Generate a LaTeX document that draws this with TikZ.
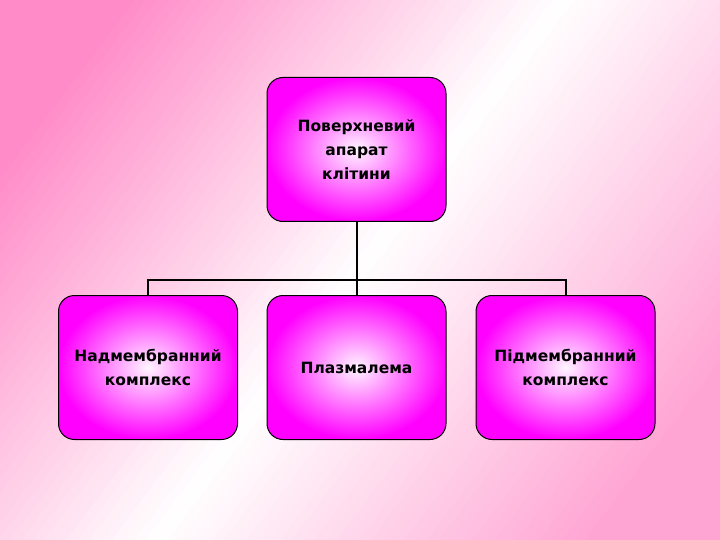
\documentclass[tikz,border=0pt]{standalone}
\usepackage{fontspec}
\setmainfont{DejaVu Sans}
\definecolor{bgpink}{RGB}{255,140,200}
\definecolor{bgpink2}{RGB}{255,165,212}
\definecolor{mag}{RGB}{255,0,255}
\definecolor{magin}{RGB}{255,245,255}
\begin{document}
\begin{tikzpicture}[x=1pt,y=-1pt,
  box/.style={draw=black,line width=1pt,rounded corners=16pt,minimum width=179pt,minimum height=144pt,
    inner color=magin,outer color=mag,align=center,font=\bfseries\fontsize{15.5}{24}\selectfont,text=black},
  conn/.style={line width=2pt,black}]
\useasboundingbox (0,0) rectangle (720,540);
\begin{scope}
\clip (0,0) rectangle (720,540);
\begin{scope}[shift={(360,270)},rotate=-37]
\foreach \i in {-50,...,49}{
  \pgfmathsetmacro{\pc}{min(100,abs(\i+0.5)*2.6)}
  \ifnum\i<0
    \fill[bgpink!\pc!white] (\i*9,-500) rectangle (\i*9+9.5,500);
  \else
    \fill[bgpink2!\pc!white] (\i*9,-500) rectangle (\i*9+9.5,500);
  \fi
}
\end{scope}
\end{scope}
\node[box] (top) at (356.5,149.5) {Поверхневий\\апарат\\клітини};
\node[box] (l) at (148,367.5) {Надмембранний\\комплекс};
\node[box] (m) at (356.5,367.5) {Плазмалема};
\node[box] (r) at (565.5,367.5) {Підмембранний\\комплекс};
\coordinate (j) at (356.5,280);
\draw[conn] (top.south) -- (j);
\draw[conn] (l.north) |- (j) -| (r.north);
\draw[conn] (j) -- (m.north);
\end{tikzpicture}
\end{document}
